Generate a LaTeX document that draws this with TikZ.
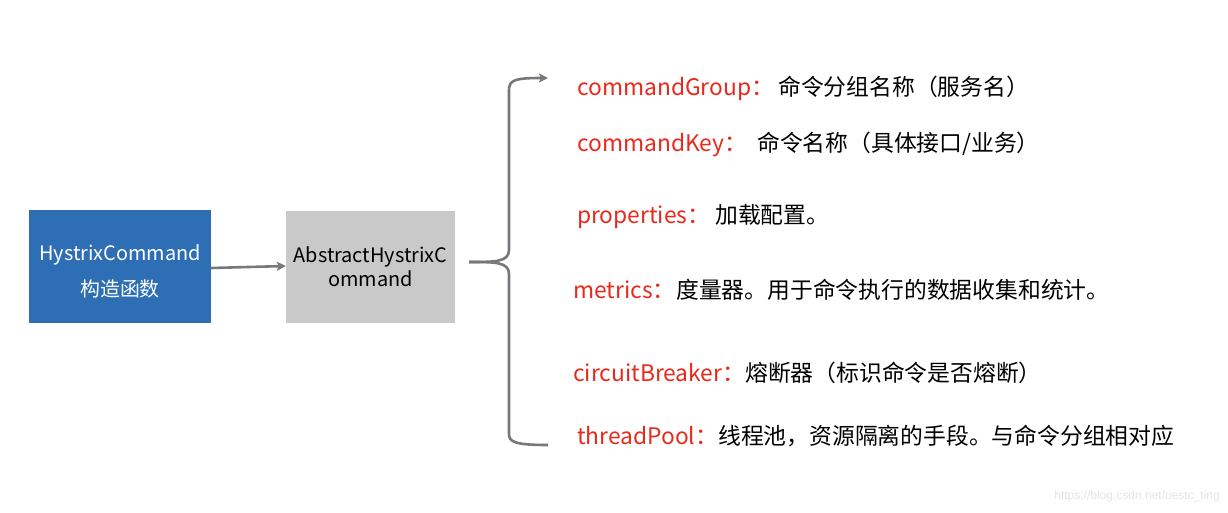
\documentclass[tikz,border=0pt]{standalone}
\usepackage{fontspec}
\newfontfamily\cjk{Noto Sans CJK SC}
\usetikzlibrary{arrows.meta}
\definecolor{boxblue}{HTML}{2E6EB5}
\definecolor{boxgray}{HTML}{C9C9C9}
\definecolor{linegray}{HTML}{76787C}
\definecolor{keyred}{HTML}{E8291C}
\tikzset{
  lbl/.style={font=\cjk\fontsize{22.8}{26}\selectfont, anchor=base west, inner sep=0pt},
  keylbl/.style={lbl, text=keyred},
  desclbl/.style={lbl, text=black},
  conn/.style={draw=linegray, line width=2.6pt},
  tip/.style={-{Stealth[length=9pt,width=9pt,inset=2pt]}},
}
\begin{document}
\begin{tikzpicture}[x=1pt,y=-1pt]
\useasboundingbox[fill=white] (0,0) rectangle (1228,513);
% boxes
\node[fill=boxblue, minimum width=182pt, minimum height=113pt, inner sep=0pt]
  (hc) at (120,266.5) {};
\node[text=white, align=center, inner sep=0pt, font=\cjk\fontsize{19.9}{36}\selectfont]
  (hct) at (120,271) {HystrixCommand\\构造函数};
\node[fill=boxgray, minimum width=169pt, minimum height=112pt, inner sep=0pt,
      text=black, align=center, font=\cjk\fontsize{19.9}{24}\selectfont]
  (ahc) at (370.5,267) {AbstractHystrixC\\ommand};
\draw[conn, tip] (hc.east |- 0,268) -- (ahc.west |- 0,266);
% brace
\coordinate (btip) at (469,262);
\coordinate (btop) at (548,78);
\coordinate (bbot) at (548,445);
\draw[conn, tip, line cap=butt] (btip) .. controls (495,262) and (509,262) .. (509,250)
  -- (509,90) .. controls (509,80) and (515,78) .. (btop);
\draw[conn] (btip) .. controls (495,262) and (509,262) .. (509,274)
  -- (509,434) .. controls (509,442) and (515,445) .. (bbot);
% labels
\node[keylbl] (k1) at (577,96) {commandGroup：};
\node[desclbl] (d1) at (778,96) {命令分组名称（服务名）};
\node[keylbl] (k2) at (577,152) {commandKey：};
\node[desclbl] (d2) at (757,152) {命令名称（具体接口/业务）};
\node[keylbl] (k3) at (577,223) {properties：};
\node[desclbl] (d3) at (715,223) {加载配置。};
\node[keylbl] (k4) at (573,298) {metrics：};
\node[desclbl] (d4) at (676,298) {度量器。用于命令执行的数据收集和统计。};
\node[keylbl] (k5) at (573,381) {circuitBreaker：};
\node[desclbl] (d5) at (745,381) {熔断器（标识命令是否熔断）};
\node[keylbl] (k6) at (577,444) {threadPool：};
\node[desclbl] (d6) at (718,444) {线程池，资源隔离的手段。与命令分组相对应};
% watermark
\node[font=\fontspec{Liberation Sans}\fontsize{12}{14}\selectfont, text=black!10, anchor=base east, inner sep=0pt]
  (wm) at (1220,499) {https://blog.csdn.net/uestc\_ting};
\end{tikzpicture}
\end{document}
